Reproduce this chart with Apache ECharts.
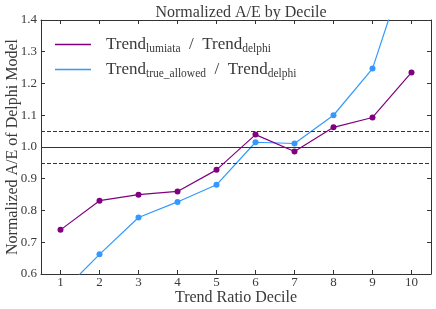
<!DOCTYPE html>
<html><head><meta charset="utf-8">
<script src="https://cdn.jsdelivr.net/npm/echarts@6/dist/echarts.min.js"></script>
<style>html,body{margin:0;padding:0;background:#fff}#c{width:436px;height:309px}</style>
</head><body><div id="c"></div>
<script>
var deciles = [1,2,3,4,5,6,7,8,9,10];
var lumiata = [0.739,0.831,0.850,0.860,0.928,1.039,0.986,1.062,1.093,1.235];
var trueAllowed = [0.538,0.662,0.778,0.827,0.881,1.015,1.011,1.100,1.247,1.62];
var yTicks = [0.6,0.7,0.8,0.9,1.0,1.1,1.2,1.3,1.4];
var refSolid = 1.0, refBand = [0.95,1.05];
var FONT = 'Liberation Serif';
var TXT = '#3a3a3a';
var chart = echarts.init(document.getElementById('c'));
function pairs(v){return deciles.map(function(d,i){return [d,v[i]];});}
var line = {show:true,onZero:false,lineStyle:{color:'#333',width:1}};
var tick = {show:true,inside:true,length:4,lineStyle:{color:'#333'},customValues:deciles};
var ytick = {show:true,inside:true,length:4,lineStyle:{color:'#333'}};
chart.setOption({
  animation:false,
  title:{text:'Normalized A/E by Decile',left:236,textAlign:'center',top:0,textStyle:{fontFamily:FONT,fontSize:16,fontWeight:'normal',color:TXT}},
  grid:{left:41,right:5,top:20,bottom:35,containLabel:false,outerBoundsMode:'none'},
  legend:{
    left:50,top:29,orient:'vertical',itemGap:4,itemWidth:36,itemHeight:14,
    icon:'path://M0,6 L36,6 L36,7.4 L0,7.4 Z',
    formatter:function(n){
      if(n==='lumiata') return '{a|Trend}{s|lumiata}{a|  /  Trend}{s|delphi}';
      return '{a|Trend}{s|true_allowed}{a|  /  Trend}{s|delphi}';
    },
    textStyle:{fontFamily:FONT,color:TXT,padding:[0,0,0,10],
      rich:{a:{fontFamily:FONT,fontSize:17,color:TXT,lineHeight:22},
            s:{fontFamily:FONT,fontSize:11.5,color:TXT,lineHeight:22,padding:[9,0,0,0]}}},
    data:['lumiata','true_allowed']
  },
  xAxis:[
    {type:'value',min:0.5,max:10.5,position:'bottom',
      name:'Trend Ratio Decile',nameLocation:'middle',nameGap:16,nameMoveOverlap:false,
      nameTextStyle:{fontFamily:FONT,fontSize:16,color:TXT},
      axisLine:line,axisTick:tick,splitLine:{show:false},
      axisLabel:{fontFamily:FONT,fontSize:13,color:TXT,margin:2,customValues:deciles}},
    {type:'value',min:0.5,max:10.5,position:'top',axisLabel:{show:false},
      axisLine:line,axisTick:tick,splitLine:{show:false}}
  ],
  yAxis:[
    {type:'value',min:0.6,max:1.4,interval:0.1,position:'left',
      name:'Normalized A/E of Delphi Model',nameLocation:'middle',nameGap:20,nameMoveOverlap:false,
      nameTextStyle:{fontFamily:FONT,fontSize:16,color:TXT},
      axisLine:line,axisTick:ytick,splitLine:{show:false},
      axisLabel:{fontFamily:FONT,fontSize:13,color:TXT,margin:4,formatter:function(v){return v.toFixed(1);}}},
    {type:'value',min:0.6,max:1.4,interval:0.1,position:'right',axisLabel:{show:false},
      axisLine:line,axisTick:ytick,splitLine:{show:false}}
  ],
  series:[
    {name:'lumiata',type:'line',data:pairs(lumiata),color:'#800080',symbol:'circle',symbolSize:6,
     lineStyle:{width:1.2,color:'#800080'},itemStyle:{color:'#800080'},z:5,
     markLine:{silent:true,symbol:'none',label:{show:false},
       data:[{yAxis:refSolid,lineStyle:{type:'solid',color:'#333',width:1.1}},
             {yAxis:refBand[0],lineStyle:{type:[4,2],color:'#333',width:1.1}},
             {yAxis:refBand[1],lineStyle:{type:[4,2],color:'#333',width:1.1}}]}},
    {name:'true_allowed',type:'line',data:pairs(trueAllowed),color:'#3399ff',symbol:'circle',symbolSize:6,
     lineStyle:{width:1.2,color:'#3399ff'},itemStyle:{color:'#3399ff'},z:4,clip:true}
  ]
});
</script></body></html>
